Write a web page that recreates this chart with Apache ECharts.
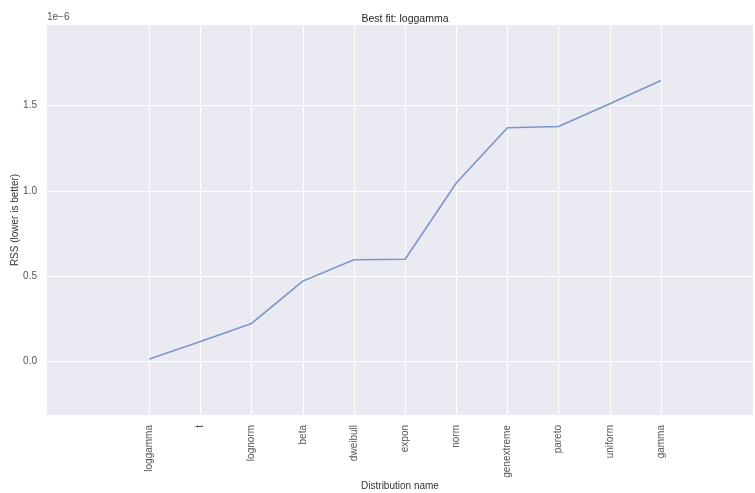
<!DOCTYPE html>
<html>
<head>
<meta charset="utf-8">
<script src="https://cdn.jsdelivr.net/npm/echarts@6/dist/echarts.min.js"></script>
<style>
  html, body { margin: 0; padding: 0; background: #fff; }
  #main { width: 755px; height: 493px; }
</style>
</head>
<body>
<div id="main"></div>
<script>
// distributions, sorted by fit quality
var categories = ['loggamma', 't', 'lognorm', 'beta', 'dweibull', 'expon', 'norm', 'genextreme', 'pareto', 'uniform', 'gamma'];
// RSS in units of 1e-6
var rss = [0.016, 0.119, 0.224, 0.472, 0.597, 0.600, 1.047, 1.370, 1.378, 1.511, 1.647];
var yTicks = [0, 0.5, 1.0, 1.5];

var chart = echarts.init(document.getElementById('main'));
var font = 'Liberation Sans, Arial, sans-serif';
var catIdx = categories.map(function (c, i) { return i; });

chart.setOption({
  animation: false,
  title: {
    text: 'Best fit: loggamma',
    left: 400, top: 9, textAlign: 'center',
    textStyle: { fontFamily: font, fontSize: 10.5, fontWeight: 'normal', color: '#262626' }
  },
  graphic: [{
    type: 'text', left: 47, top: 12,
    style: { text: '1e\u22126', font: '10px ' + font, fill: '#555' }
  }],
  grid: {
    left: 47, right: 2, top: 25, bottom: 78,
    outerBoundsMode: 'none', containLabel: false,
    backgroundColor: '#EAEAF2', show: true, borderWidth: 0
  },
  xAxis: {
    type: 'value', min: -2, max: 11.8,
    name: 'Distribution name', nameLocation: 'middle', nameGap: 66, nameMoveOverlap: false,
    nameTextStyle: { fontFamily: font, fontSize: 10, color: '#333' },
    axisLine: { show: false },
    axisTick: { show: false, customValues: catIdx },
    splitLine: { show: true, customValues: catIdx, lineStyle: { color: '#fff', width: 1 } },
    axisLabel: {
      customValues: catIdx, rotate: 90, margin: 10,
      fontFamily: font, fontSize: 10, color: '#555',
      formatter: function (v) { return categories[Math.round(v)] || ''; }
    }
  },
  yAxis: {
    type: 'value', min: -0.312, max: 1.972,
    name: 'RSS (lower is better)', nameLocation: 'middle', nameGap: 27, nameMoveOverlap: false,
    nameTextStyle: { fontFamily: font, fontSize: 10, color: '#333' },
    axisLine: { show: false },
    axisTick: { show: false, customValues: yTicks },
    splitLine: { show: true, customValues: yTicks, lineStyle: { color: '#fff', width: 1 } },
    axisLabel: {
      customValues: yTicks, margin: 10,
      fontFamily: font, fontSize: 10, color: '#555',
      formatter: function (v) { return v.toFixed(1); }
    }
  },
  series: [{
    type: 'line',
    data: rss.map(function (v, i) { return [i, v]; }),
    showSymbol: false,
    lineStyle: { color: '#7B96C4', width: 1.6 },
    itemStyle: { color: '#7B96C4' }
  }]
});
</script>
</body>
</html>
